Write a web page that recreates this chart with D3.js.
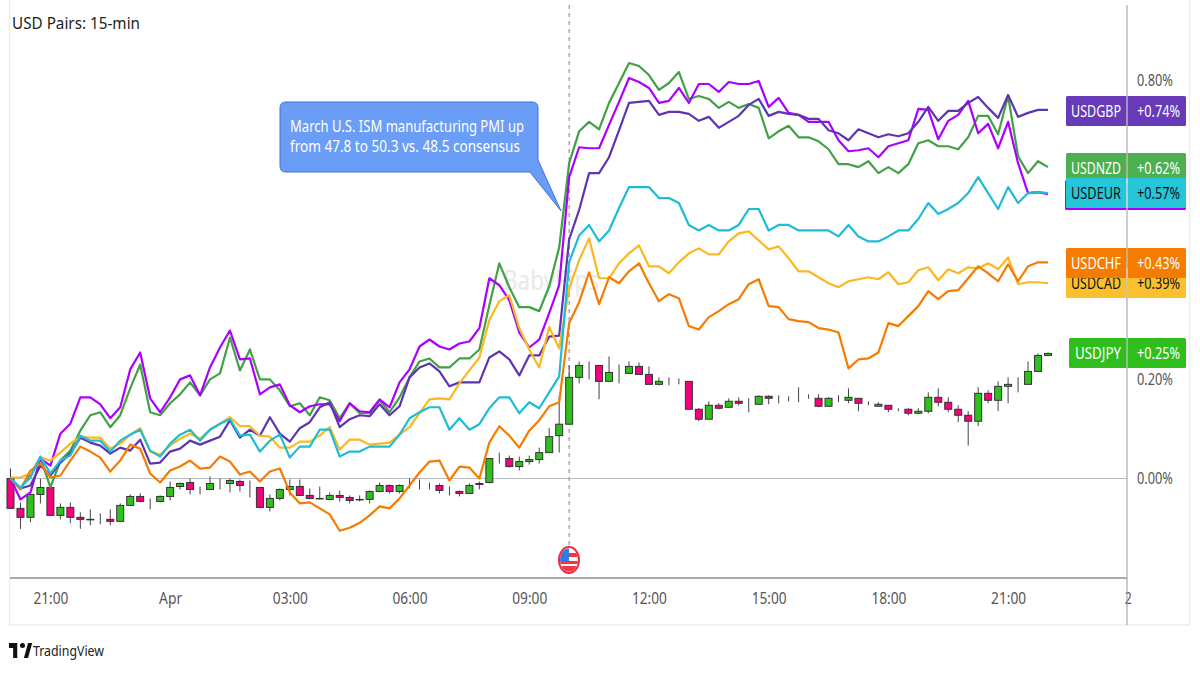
<!DOCTYPE html>
<html>
<head>
<meta charset="utf-8">
<script src="https://cdn.jsdelivr.net/npm/d3@7"></script>
<style>
html,body{margin:0;padding:0;background:#fff;}
svg{display:block;}
text{font-family:"Noto Sans",sans-serif;}
</style>
</head>
<body>
<svg id="myGraph" width="1200" height="675"></svg>
<script>
// percent change per 15 min bar, first bar is Mar 31 20:00
var usdAud = [
0,-.042,-.028,.040,.026,.090,.110,.163,.163,.149,
.121,.143,.219,.253,.161,.133,.163,.199,.207,.167,
.223,.263,.297,.239,.241,.169,.183,.189,.147,.133,
.145,.149,.149,.115,.151,.135,.133,.159,.143,.193,
.219,.265,.279,.265,.259,.271,.275,.302,.402,.388,
.358,.293,.263,.279,.332,.388,.605,.665,.663,.663,
.710,.756,.804,.796,.784,.754,.758,.784,.754,.792,
.792,.776,.796,.792,.792,.798,.746,.764,.734,.730,
.716,.716,.716,.679,.657,.659,.663,.645,.667,.673,
.679,.742,.740,.681,.718,.730,.758,.693,.712,.663,
.716,.633,.573,.575,.571];
var usdNzd = [
0,-.020,.010,.042,-.018,.036,.056,.096,.127,.133,
.103,.127,.181,.229,.133,.127,.151,.169,.193,.167,
.199,.211,.283,.217,.259,.199,.199,.177,.145,.151,
.127,.163,.157,.121,.151,.131,.131,.157,.133,.163,
.203,.235,.241,.223,.223,.241,.241,.259,.348,.432,
.384,.344,.344,.336,.386,.464,.633,.697,.716,.701,
.754,.794,.834,.828,.810,.780,.794,.816,.762,.768,
.762,.744,.756,.744,.752,.744,.683,.697,.708,.685,
.685,.677,.661,.631,.631,.625,.637,.613,.625,.613,
.631,.673,.679,.667,.667,.661,.685,.728,.728,.691,
.768,.647,.613,.637,.625];
var usdGbp = [
0,-.020,-.014,.026,.006,.032,.050,.082,.072,.066,
.050,.062,.056,.078,.030,.032,.054,.060,.076,.068,
.076,.084,.117,.082,.098,.086,.123,.090,.074,.101,
.113,.143,.153,.103,.119,.127,.125,.149,.127,.145,
.203,.223,.231,.215,.185,.193,.193,.193,.243,.255,
.239,.207,.247,.247,.285,.287,.480,.539,.613,.613,
.645,.699,.754,.756,.758,.730,.736,.736,.732,.718,
.726,.704,.716,.728,.750,.762,.728,.736,.732,.730,
.722,.722,.699,.693,.679,.701,.693,.685,.691,.687,
.693,.716,.746,.718,.738,.738,.754,.766,.744,.724,
.770,.726,.734,.740,.740];
var usdEur = [
0,-.018,.002,.044,.010,.036,.046,.086,.076,.076,
.054,.076,.088,.098,.056,.044,.070,.088,.098,.076,
.098,.110,.119,.086,.088,.054,.076,.088,.042,.064,
.064,.098,.098,.044,.054,.054,.064,.064,.064,.088,
.121,.133,.143,.143,.098,.121,.098,.109,.141,.163,
.163,.131,.153,.141,.173,.205,.434,.488,.509,.476,
.498,.543,.585,.585,.585,.563,.563,.553,.509,.498,
.509,.498,.498,.509,.541,.541,.498,.509,.509,.498,
.498,.498,.498,.486,.509,.486,.476,.476,.486,.498,
.498,.521,.553,.531,.541,.553,.573,.605,.573,.541,
.585,.553,.573,.575,.573];
var usdCad = [
.002,.002,.010,.042,.036,.052,.070,.084,.082,.082,
.060,.070,.088,.101,.054,.048,.066,.080,.090,.080,
.098,.110,.123,.105,.105,.086,.084,.062,.062,.074,
.074,.086,.103,.058,.078,.078,.068,.070,.072,.088,
.103,.131,.159,.161,.159,.191,.217,.243,.318,.356,
.368,.302,.259,.223,.304,.261,.382,.438,.482,.402,
.402,.432,.452,.468,.426,.426,.412,.434,.452,.462,
.450,.450,.476,.492,.496,.478,.460,.466,.442,.416,
.416,.404,.392,.384,.396,.400,.404,.400,.414,.390,
.394,.418,.424,.398,.420,.412,.424,.422,.432,.420,
.444,.390,.394,.394,.392];
var usdChf = [
0,-.022,.016,.030,.002,.006,.036,.064,.054,.042,
.014,.036,.068,.060,.010,-.008,.016,.024,.036,.020,
.022,.044,.034,.008,.014,-.006,.014,.020,-.028,-.050,
-.048,-.060,-.072,-.105,-.099,-.089,-.074,-.056,-.060,-.040,
-.014,.012,.034,.036,-.004,.024,.022,0,.072,.105,
.086,.062,.096,.117,.145,.153,.312,.354,.414,.350,
.404,.392,.416,.432,.392,.356,.370,.362,.306,.299,
.324,.336,.350,.360,.390,.400,.346,.344,.320,.316,
.314,.302,.299,.293,.221,.239,.241,.253,.312,.306,
.326,.346,.376,.360,.376,.378,.402,.426,.412,.396,
.430,.396,.426,.434,.434];

// USDJPY candles
var jpyOpen = [
0,-.060,-.078,-.032,-.018,-.074,-.058,-.078,-.082,-.082,
-.082,-.086,-.054,-.036,-.045,-.046,-.036,-.016,-.008,-.022,
-.022,-.010,-.010,-.006,-.016,-.018,-.058,-.040,-.022,-.016,
-.034,-.040,-.042,-.034,-.038,-.042,-.042,-.026,-.014,-.026,
-.014,-.014,-.014,-.014,-.024,-.026,-.030,-.012,-.008,.040,
.040,.024,.034,.038,.052,.086,.109,.203,.227,.227,
.195,.213,.211,.225,.209,.189,.195,.195,.195,.139,
.119,.147,.143,.155,.149,.149,.165,.161,.159,.161,
.161,.161,.145,.161,.157,.161,.151,.145,.147,.139,
.139,.131,.135,.163,.153,.139,.127,.115,.171,.157,
.185,.189,.189,.215,.247];
var jpyClose = [
-.060,-.078,-.032,-.018,-.074,-.058,-.078,-.082,-.083,-.082,
-.086,-.054,-.036,-.046,-.045,-.036,-.018,-.010,-.022,-.022,
-.010,-.010,-.004,-.014,-.016,-.058,-.040,-.022,-.016,-.034,
-.040,-.041,-.034,-.038,-.044,-.043,-.026,-.014,-.026,-.014,
-.014,-.014,-.014,-.024,-.024,-.030,-.014,-.010,.040,.040,
.024,.034,.038,.052,.084,.109,.203,.227,.227,.195,
.213,.213,.225,.209,.189,.195,.195,.195,.139,.119,
.147,.141,.155,.151,.149,.165,.161,.161,.159,.161,
.161,.145,.161,.161,.163,.151,.151,.149,.139,.139,
.131,.135,.163,.153,.139,.127,.115,.171,.157,.185,
.189,.189,.215,.247,.251];
var jpyHigh = [
.020,-.048,-.032,0,-.018,-.050,-.048,-.068,-.062,-.070,
-.062,-.050,-.032,-.030,-.040,-.034,-.006,-.008,0,-.016,
.004,0,0,-.002,-.004,-.018,-.032,-.020,-.002,-.002,
-.020,-.016,-.028,-.024,-.034,-.034,-.024,-.008,-.012,-.012,
0,-.002,-.008,-.010,-.016,-.024,-.010,-.006,.040,.052,
.046,.044,.046,.062,.101,.165,.227,.235,.235,.227,
.245,.229,.235,.233,.225,.203,.203,.201,.195,.141,
.155,.151,.161,.163,.161,.167,.167,.167,.165,.183,
.169,.169,.163,.167,.181,.161,.155,.153,.147,.141,
.141,.141,.173,.181,.163,.147,.135,.183,.177,.195,
.203,.203,.235,.251,.253];
var jpyLow = [
-.060,-.101,-.088,-.050,-.074,-.082,-.090,-.101,-.094,-.092,
-.094,-.086,-.054,-.048,-.062,-.048,-.044,-.022,-.032,-.032,
-.022,-.022,-.028,-.026,-.038,-.058,-.066,-.044,-.034,-.034,
-.042,-.042,-.044,-.046,-.050,-.046,-.050,-.026,-.030,-.030,
-.020,-.022,-.022,-.030,-.034,-.036,-.030,-.022,-.010,.030,
.022,.016,.028,.030,.052,.052,.109,.191,.199,.159,
.195,.191,.211,.209,.189,.187,.187,.189,.139,.115,
.119,.139,.143,.147,.133,.149,.149,.151,.155,.153,
.160,.143,.145,.153,.151,.135,.147,.145,.133,.135,
.127,.129,.131,.145,.133,.113,.066,.105,.151,.135,
.151,.173,.189,.215,.247];

var yTicks = [0, 0.2, 0.8];
var xTickHours = [-3, 0, 3, 6, 9, 12, 15, 18, 21, 24];
var xTickLabels = ["21:00","Apr","03:00","06:00","09:00","12:00","15:00","18:00","21:00","2"];

var midnight = new Date(2024, 3, 1, 0, 0);
function hoursLater(h){ return new Date(midnight.getTime() + h*3600000); }
function barTime(i){ return hoursLater(-4 + i*0.25); }

var svg = d3.select("#myGraph");

var xScale = d3.scaleTime()
	.domain([barTime(0), barTime(104)])
	.range([10.5, 1048]);
var yScale = d3.scaleLinear()
	.domain([0, 0.8])
	.range([478.5, 80]);

// panel edges
svg.append("rect")
	.attr("x",9.5).attr("y",-5).attr("width",1180).attr("height",630)
	.attr("fill","none").attr("stroke","#eceef2").attr("stroke-width",1.5);

// watermark
svg.append("text")
	.attr("x",503).attr("y",290)
	.attr("font-size",28)
	.attr("textLength",96).attr("lengthAdjust","spacingAndGlyphs")
	.attr("fill","#e9e9e9")
	.text("BabyPips");

// zero line
svg.append("line")
	.attr("x1",10).attr("x2",1127).attr("y1",yScale(0)).attr("y2",yScale(0))
	.attr("stroke","#b9bcc4").attr("stroke-width",1);

// event line
svg.append("line")
	.attr("x1",xScale(barTime(56))).attr("x2",xScale(barTime(56)))
	.attr("y1",5).attr("y2",545)
	.attr("stroke","#808080").attr("stroke-width",1)
	.attr("stroke-dasharray","4 4");

// candles
var candles = svg.append("g").selectAll("g")
	.data(jpyOpen)
	.enter()
	.append("g");
candles.append("line")
	.attr("x1",function(d,i){ return xScale(barTime(i)); })
	.attr("x2",function(d,i){ return xScale(barTime(i)); })
	.attr("y1",function(d,i){ return yScale(jpyHigh[i]); })
	.attr("y2",function(d,i){ return yScale(jpyLow[i]); })
	.attr("stroke","#444").attr("stroke-width",1);
candles.append("rect")
	.attr("x",function(d,i){ return xScale(barTime(i))-3.5; })
	.attr("y",function(d,i){ return yScale(Math.max(d,jpyClose[i])); })
	.attr("width",7)
	.attr("height",function(d,i){ return Math.abs(yScale(d)-yScale(jpyClose[i])); })
	.attr("fill",function(d,i){ return jpyClose[i]>=d ? "#2fc01e" : "#f5007d"; })
	.attr("stroke","#333").attr("stroke-width",1);

// pair lines
var pairNames = ["USDNZD","USDAUD","USDGBP","USDCAD","USDCHF","USDEUR"];
var pairValues = [usdNzd, usdAud, usdGbp, usdCad, usdChf, usdEur];
var pairColors = ["#43a047","#aa00ff","#5e35b1","#fbb820","#f57c00","#1fbcd6"];
var line = d3.line()
	.x(function(d,i){ return xScale(barTime(i)); })
	.y(function(d){ return yScale(d); });
svg.append("g").selectAll("path")
	.data(pairValues)
	.enter()
	.append("path")
	.attr("class","line")
	.attr("d",function(d){ return line(d); })
	.attr("fill","none")
	.attr("stroke",function(d,i){ return pairColors[i]; })
	.attr("stroke-width",2.2)
	.attr("stroke-linejoin","round");

// axes
var xAxis = d3.axisBottom(xScale)
	.tickValues(xTickHours.map(hoursLater))
	.tickSize(0)
	.tickPadding(0)
	.tickFormat(function(d,i){ return xTickLabels[i]; });
var xAxisG = svg.append("g")
	.attr("transform","translate(0,592)")
	.call(xAxis);
xAxisG.select(".domain").remove();
xAxisG.selectAll("text")
	.attr("font-size",16)
	.attr("fill","#555")
	.attr("dy","0.75em")
	.style("font-family",'"Noto Sans",sans-serif')
	.attr("textLength",function(d,i){ return xTickLabels[i]=="Apr" ? 23 : xTickLabels[i]=="2" ? 7 : 35; })
	.attr("lengthAdjust","spacingAndGlyphs");

var yAxis = d3.axisRight(yScale)
	.tickValues(yTicks)
	.tickSize(0)
	.tickPadding(0)
	.tickFormat(function(d){ return d.toFixed(2)+"%"; });
var yAxisG = svg.append("g")
	.attr("transform","translate(1137,0)")
	.call(yAxis);
yAxisG.select(".domain").remove();
yAxisG.selectAll("text")
	.attr("font-size",16)
	.attr("fill","#555")
	.style("font-family",'"Noto Sans",sans-serif')
	.attr("textLength",36)
	.attr("lengthAdjust","spacingAndGlyphs");

svg.append("line")
	.attr("x1",10).attr("x2",1127).attr("y1",578).attr("y2",578)
	.attr("stroke","#8c8c8c").attr("stroke-width",1.5);

// end labels
var labelNames = ["USDGBP","USDNZD","","USDEUR","USDCAD","USDCHF","USDJPY"];
var labelValues = [0.74,0.62,0.57,0.57,0.39,0.43,0.25];
var labelColors = ["#673ab7","#4caf50","#aa00ff","#26c6da","#fbc02d","#f57c00","#2fbe1c"];
var labelTops = [96,153,180,178,268,248,338];
var labelLefts = [1066,1066,1065,1066,1066,1066,1069];
var labelInk = ["#fff","#fff","#fff","#111","#111","#fff","#fff"];
var labels = svg.append("g").selectAll("g")
	.data(labelNames)
	.enter()
	.append("g");
labels.append("rect")
	.attr("x",function(d,i){ return labelLefts[i]; })
	.attr("y",function(d,i){ return labelTops[i]; })
	.attr("width",function(d,i){ return 1186-labelLefts[i]; })
	.attr("height",30)
	.attr("rx",1.5)
	.attr("fill",function(d,i){ return labelColors[i]; });
labels.filter(function(d){ return d!=""; }).append("text")
	.attr("x",function(d,i){ return d=="USDJPY" ? 1075 : 1071; })
	.attr("y",function(d){ return labelTops[labelNames.indexOf(d)]+21; })
	.attr("font-size",17)
	.attr("textLength",function(d){ return d=="USDJPY" ? 46 : 50; })
	.attr("lengthAdjust","spacingAndGlyphs")
	.attr("fill",function(d){ return labelInk[labelNames.indexOf(d)]; })
	.text(function(d){ return d; });
labels.filter(function(d){ return d!=""; }).append("text")
	.attr("x",1137)
	.attr("y",function(d){ return labelTops[labelNames.indexOf(d)]+21; })
	.attr("font-size",17)
	.attr("textLength",43)
	.attr("lengthAdjust","spacingAndGlyphs")
	.attr("fill",function(d){ return labelInk[labelNames.indexOf(d)]; })
	.text(function(d){ return "+"+labelValues[labelNames.indexOf(d)].toFixed(2)+"%"; });

// price axis line on top of the labels
svg.append("line")
	.attr("x1",1127).attr("x2",1127).attr("y1",5).attr("y2",625)
	.attr("stroke","#9a9a9a").attr("stroke-width",1);
svg.selectAll(".axisLabelGap").data(labelTops)
	.enter()
	.append("line")
	.attr("x1",1127).attr("x2",1127)
	.attr("y1",function(d){ return d; })
	.attr("y2",function(d){ return d+30; })
	.attr("stroke","#fff").attr("stroke-opacity",0.55);

// title
svg.append("text")
	.attr("x",12).attr("y",29)
	.attr("font-size",17)
	.attr("textLength",128).attr("lengthAdjust","spacingAndGlyphs")
	.attr("fill","#222")
	.text("USD Pairs: 15-min");

// callout
svg.append("path")
	.attr("d","M286,102H532Q538,102 538,108V160L561,211L530,172H286Q280,172 280,166V108Q280,102 286,102Z")
	.attr("fill","#6a9df5").attr("stroke","#3b72e0").attr("stroke-width",1);
var noteLines = ["March U.S. ISM manufacturing PMI up","from 47.8 to 50.3 vs. 48.5 consensus"];
var noteWidths = [234,230];
svg.selectAll(".note").data(noteLines)
	.enter()
	.append("text")
	.attr("class","note")
	.attr("x",290)
	.attr("y",function(d,i){ return 132+i*20; })
	.attr("font-size",16.5)
	.attr("textLength",function(d,i){ return noteWidths[i]; })
	.attr("lengthAdjust","spacingAndGlyphs")
	.attr("fill","#fff")
	.text(function(d){ return d; });

// event flag
var flag = svg.append("g").attr("transform","translate(569,560)");
flag.append("clipPath").attr("id","flagClip")
	.append("ellipse").attr("rx",9).attr("ry",11.5);
var flagInner = flag.append("g").attr("clip-path","url(#flagClip)");
flagInner.append("rect").attr("x",-10).attr("y",-12).attr("width",20).attr("height",24).attr("fill","#fff");
flagInner.append("rect").attr("x",-1).attr("y",-7).attr("width",11).attr("height",4).attr("fill","#f23645");
flagInner.append("rect").attr("x",-10).attr("y",1).attr("width",20).attr("height",3).attr("fill","#f23645");
flagInner.append("rect").attr("x",-10).attr("y",6).attr("width",20).attr("height",7).attr("fill","#f23645");
flagInner.append("rect").attr("x",-10).attr("y",-12).attr("width",10).attr("height",13).attr("fill","#2e7be6");
flag.append("ellipse").attr("rx",10).attr("ry",13)
	.attr("fill","none").attr("stroke","#ee2a3c").attr("stroke-width",2);

// logo
svg.append("path")
	.attr("d","M10,643H20V658H15V648H10Z M28,658L33,643H38L33,658Z")
	.attr("fill","#111")
	.attr("transform","translate(-1,0) scale(0.83,1) translate(2,0)");
svg.append("circle").attr("cx",22.5).attr("cy",645.5).attr("r",2.5).attr("fill","#111");
svg.append("text")
	.attr("x",33).attr("y",656)
	.attr("font-size",15)
	.attr("textLength",71).attr("lengthAdjust","spacingAndGlyphs")
	.attr("fill","#222")
	.text("TradingView");
</script>
</body>
</html>
